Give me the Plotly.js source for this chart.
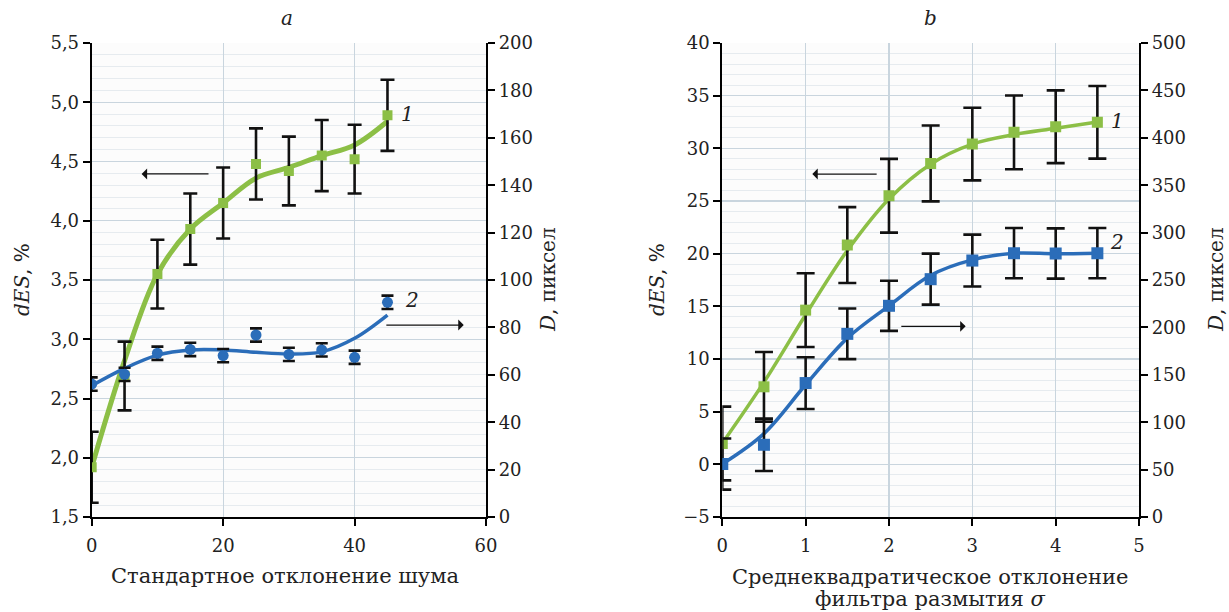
<!DOCTYPE html>
<html>
<head>
<meta charset="utf-8">
<script src="https://cdn.plot.ly/plotly-3.0.1.min.js"></script>
<style>html,body{margin:0;padding:0;background:#fff;} #chart{width:1229px;height:612px;}</style>
</head>
<body>
<div id="chart"></div>
<script>
// ---- Panel a: noise standard deviation ----
const noiseX = [0, 5, 10, 15, 20, 25, 30, 35, 40, 45];
const desNoise = [1.92, 2.69, 3.55, 3.93, 4.15, 4.48, 4.42, 4.55, 4.52, 4.89];
const desNoiseErr = [0.30, 0.29, 0.29, 0.30, 0.30, 0.30, 0.29, 0.30, 0.29, 0.30];
const desNoiseTrend = [1.92, 2.82, 3.55, 3.93, 4.15, 4.36, 4.45, 4.55, 4.64, 4.84];
const dNoise = [56.1, 60.2, 69.1, 70.7, 68.1, 76.8, 68.6, 70.5, 67.4, 90.6];
const dNoiseErr = [2.8, 2.8, 2.8, 2.8, 2.8, 2.8, 2.8, 2.8, 2.8, 2.8];
const dNoiseTrend = [55.4, 62.7, 68.3, 70.5, 70.5, 69.5, 68.8, 69.7, 75.4, 85.2];

// ---- Panel b: blur filter sigma ----
const sigmaX = [0, 0.5, 1, 1.5, 2, 2.5, 3, 3.5, 4, 4.5];
const desBlur = [1.98, 7.36, 14.64, 20.82, 25.5, 28.57, 30.41, 31.52, 32.05, 32.47];
const desBlurErr = [3.5, 3.3, 3.5, 3.6, 3.5, 3.6, 3.45, 3.5, 3.45, 3.45];
const desBlurTrend = [2.0, 7.8, 14.2, 20.3, 25.2, 28.5, 30.4, 31.3, 31.9, 32.5];
const dBlur = [55.9, 76.2, 141.3, 193.2, 222.8, 250.9, 270.5, 278.3, 278.0, 278.3];
const dBlurErr = [27, 27.6, 27.3, 26.7, 26.5, 26.9, 27.4, 26.5, 26.5, 26.5];
const dBlurTrend = [55.9, 88, 139.5, 188.7, 222.8, 255, 271.3, 278.3, 277.6, 278.3];

const GREEN = '#8cbf46';
const BLUE = '#2b6db9';
const FONT = 'DejaVu Serif';

function curve(x, y, color, w, xa, ya) {
  return {x: x, y: y, xaxis: xa, yaxis: ya, mode: 'lines', type: 'scatter',
    line: {color: color, width: w, shape: 'spline', smoothing: 1}, hoverinfo: 'skip', showlegend: false};
}
function pts(x, y, e, color, sym, size, capw, xa, ya) {
  return {x: x, y: y, xaxis: xa, yaxis: ya, mode: 'markers', type: 'scatter',
    marker: {color: color, symbol: sym, size: size},
    error_y: {type: 'data', array: e, visible: true, color: '#111', thickness: 2.6, width: capw},
    showlegend: false};
}

const data = [
  curve(noiseX, desNoiseTrend, GREEN, 5, 'x', 'y'),
  curve(noiseX, dNoiseTrend, BLUE, 3.5, 'x', 'y2'),
  pts(noiseX, desNoise, desNoiseErr, GREEN, 'square', 10, 7, 'x', 'y'),
  pts(noiseX, dNoise, dNoiseErr, BLUE, 'circle', 11, 6, 'x', 'y2'),
  curve(sigmaX, desBlurTrend, GREEN, 3.5, 'x2', 'y3'),
  curve(sigmaX, dBlurTrend, BLUE, 3.5, 'x2', 'y4'),
  pts(sigmaX, desBlur, desBlurErr, GREEN, 'square', 11, 9, 'x2', 'y3'),
  pts(sigmaX, dBlur, dBlurErr, BLUE, 'square', 12, 9, 'x2', 'y4')
];

const tickfont = {family: FONT, size: 18, color: '#222'};
const gridc = '#c9d5de';
const minorc = '#e6ebef';

function xax(domain, range, dtick, anchor) {
  return {domain: domain, range: range, dtick: dtick, tick0: 0, anchor: anchor,
    showline: true, linecolor: '#000', linewidth: 2, ticks: 'outside', ticklen: 7, tickwidth: 2, tickcolor: '#000',
    ticklabelstandoff: 4,
    showgrid: true, gridcolor: gridc, gridwidth: 1.2, zeroline: false, tickfont: tickfont, fixedrange: true};
}
function yleft(range, dtick, minorD, anchor, fmt) {
  return {domain: [0.1552, 0.9297], range: range, dtick: dtick, tick0: 0, anchor: anchor, side: 'left',
    tickformat: fmt,
    showline: true, linecolor: '#000', linewidth: 2, ticks: 'outside', ticklen: 7, tickwidth: 2, tickcolor: '#000',
    showgrid: true, gridcolor: gridc, gridwidth: 1.2, zeroline: false, tickfont: tickfont,
    minor: {dtick: minorD, showgrid: true, gridcolor: minorc, gridwidth: 1}, fixedrange: true};
}
function yright(range, dtick, overlay, anchor) {
  return {range: range, dtick: dtick, tick0: 0, overlaying: overlay, anchor: anchor, side: 'right',
    showline: true, linecolor: '#000', linewidth: 2, ticks: 'outside', ticklen: 7, tickwidth: 2, tickcolor: '#000',
    showgrid: false, zeroline: false, tickfont: tickfont, fixedrange: true};
}

function arrow(xa, ya, x0, y0, x1, y1) {
  return {xref: xa, yref: ya, axref: xa, ayref: ya, x: x1, y: y1, ax: x0, ay: y0, text: '',
    showarrow: true, arrowhead: 1, arrowsize: 1.4, arrowwidth: 1.3, arrowcolor: '#111'};
}
function lab(xref, yref, x, y, t, opts) {
  return Object.assign({xref: xref, yref: yref, x: x, y: y, text: t, showarrow: false,
    xanchor: 'center', yanchor: 'middle',
    font: {family: FONT, size: 20, color: '#222'}}, opts || {});
}

const layout = {
  width: 1229, height: 612,
  margin: {l: 0, r: 0, t: 0, b: 0},
  paper_bgcolor: '#ffffff', plot_bgcolor: '#fcfcfc',
  separators: ', ',
  showlegend: false,
  font: {family: FONT},
  xaxis: xax([0.0746, 0.3955], [0, 60], 20, 'y'),
  yaxis: yleft([1.5, 5.5], 0.5, 0.1, 'x', '.1f'),
  yaxis2: yright([0, 200], 20, 'y', 'x'),
  xaxis2: xax([0.5877, 0.9268], [0, 5], 1, 'y3'),
  yaxis3: yleft([-5, 40], 5, 1, 'x2', 'd'),
  yaxis4: yright([0, 500], 50, 'y3', 'x2'),
  annotations: [
    arrow('x', 'y', 18.0, 4.395, 7.6, 4.395),
    arrow('x', 'y', 44.6, 3.12, 56.6, 3.12),
    arrow('x2', 'y3', 1.87, 27.56, 1.08, 27.56),
    arrow('x2', 'y3', 2.13, 13.1, 2.92, 13.1),
    lab('x', 'y', 48.0, 4.90, '<i>1</i>'),
    lab('x', 'y', 48.8, 3.33, '<i>2</i>'),
    lab('x2', 'y3', 4.74, 32.6, '<i>1</i>'),
    lab('x2', 'y3', 4.73, 21.1, '<i>2</i>'),
    lab('paper', 'paper', 287/1229, 1 - 18/612, '<i>a</i>'),
    lab('paper', 'paper', 930/1229, 1 - 18/612, '<i>b</i>'),
    lab('paper', 'paper', 285/1229, 1 - 576/612, 'Стандартное отклонение шума', {font: {family: FONT, size: 21, color: '#222'}}),
    lab('paper', 'paper', 930/1229, 1 - 577/612, 'Среднеквадратическое отклонение', {font: {family: FONT, size: 21, color: '#222'}}),
    lab('paper', 'paper', 930/1229, 1 - 599/612, 'фильтра размытия <i>σ</i>', {font: {family: FONT, size: 21, color: '#222'}}),
    lab('paper', 'paper', 22/1229, 1 - 280/612, '<i>dES</i>, %', {textangle: -90}),
    lab('paper', 'paper', 548/1229, 1 - 280/612, '<i>D</i>, пиксел', {textangle: -90}),
    lab('paper', 'paper', 657/1229, 1 - 280/612, '<i>dES</i>, %', {textangle: -90}),
    lab('paper', 'paper', 1216/1229, 1 - 280/612, '<i>D</i>, пиксел', {textangle: -90})
  ]
};

Plotly.newPlot('chart', data, layout, {displayModeBar: false, staticPlot: true});
</script>
</body>
</html>
